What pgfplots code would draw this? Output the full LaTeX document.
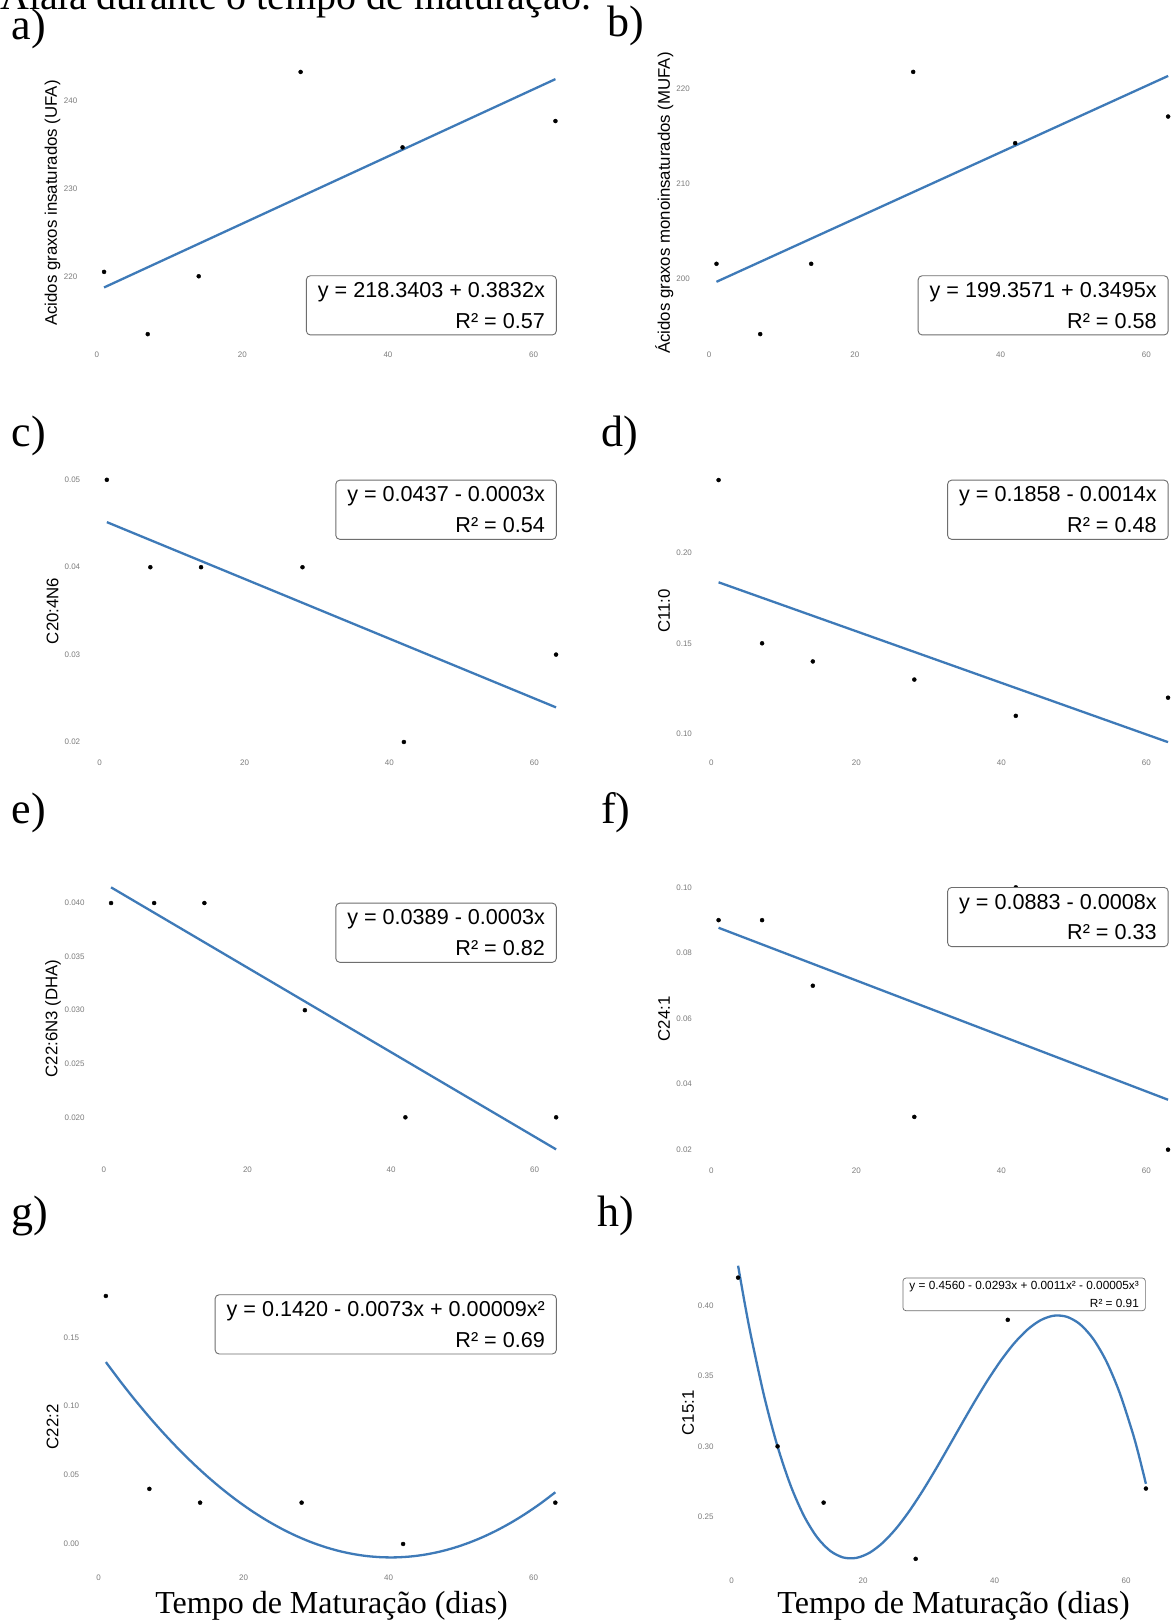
\documentclass[border=0pt]{standalone}
\usepackage{fontspec}
\setmainfont{Liberation Serif}
\newfontfamily\arialfont{Liberation Sans}
\usepackage{pgfplots}
\pgfplotsset{compat=1.18}

\definecolor{fitblue}{RGB}{62,122,184}
\definecolor{tickgray}{RGB}{125,125,125}
\definecolor{boxgray}{RGB}{110,110,110}

\newcommand\tickfont{\arialfont\fontsize{8}{9}\selectfont}
\newcommand\titlefont{\arialfont\fontsize{16.8}{19}\selectfont}
\newcommand\eqfont{\arialfont\fontsize{21.6}{30.7}\selectfont}
\newcommand\eqsmallfont{\arialfont\fontsize{11.8}{17.7}\selectfont}
\newcommand\letterfont{\fontsize{44}{48}\selectfont}
\newcommand\xtitlefont{\fontsize{32}{36}\selectfont}
\newcommand\capfont{\fontsize{40}{44}\selectfont}

\pgfplotsset{
  panel/.style={
    scale only axis, anchor=south west,
    xmin=-2.1, xmax=66.1,
    axis line style={draw=none},
    major tick length=0pt,
    tick style={draw=none},
    xtick={0,20,40,60},
    xticklabels={0,20,40,60},
    scaled y ticks=false,
    tick label style={font=\tickfont, text=tickgray},
    xticklabel style={anchor=north, inner sep=0pt, yshift=-4.5pt},
    yticklabel style={anchor=east, inner sep=0pt, xshift=-4pt},
    /pgf/number format/assume math mode=true,
  },
  fit/.style={no marks, line width=2.3pt, color=fitblue},
  obs/.style={only marks, mark=*, mark size=2pt, color=black},
}
\tikzset{
  eqbox/.style={draw=boxgray, line width=0.9pt, rounded corners=4pt, fill=white,
    align=right, anchor=north east, font=\eqfont, inner xsep=11.5pt, inner ysep=6.6pt, text=black},
  eqboxsmall/.style={eqbox, font=\eqsmallfont, inner xsep=6.5pt, inner ysep=3.3pt, rounded corners=3pt, line width=0.7pt},
  letter/.style={anchor=base west, inner sep=0pt, font=\letterfont},
  ytitle/.style={rotate=90, inner sep=0pt, font=\titlefont},
  xtitle/.style={anchor=base, inner sep=0pt, font=\xtitlefont},
}

\begin{document}
\begin{tikzpicture}
\path[use as bounding box] (0,0) rectangle (1175pt,-1621pt);
\fill[white] (0,0) rectangle (1175pt,-1621pt);

% running caption line, cut by the page edge
\begin{scope}
  \clip (0,0) rectangle (1175pt,-1621pt);
  \node[anchor=base west, inner sep=0pt, font=\capfont] at (0pt,-10pt) {Alaia durante o tempo de maturação.};
\end{scope}

% ---------------- a) UFA
\begin{axis}[panel, at={(81.5pt,-347.3pt)}, width=496.5pt, height=288.5pt,
  ymin=211.9, ymax=244.8, ytick={220,230,240}, yticklabels={220,230,240}]
  \addplot[fit] coordinates {(1,218.7235) (63,242.4819)};
  \addplot[obs] coordinates {(1,220.5) (7,213.4) (14,220.0) (28,243.3) (42,234.7) (63,237.7)};
\end{axis}

% ---------------- b) MUFA
\begin{axis}[panel, at={(693.9pt,-347.4pt)}, width=496.8pt, height=288.8pt,
  ymin=192.8, ymax=223.2, ytick={200,210,220}, yticklabels={200,210,220}]
  \addplot[fit] coordinates {(1,199.7066) (63,221.3756)};
  \addplot[obs] coordinates {(1,201.6) (7,194.2) (14,201.6) (28,221.8) (42,214.3) (63,217.1)};
\end{axis}

% ---------------- c) C20:4N6
\begin{axis}[panel, at={(84.4pt,-755.1pt)}, width=494.1pt, height=288.4pt,
  ymin=0.0185, ymax=0.0515, ytick={0.02,0.03,0.04,0.05}, yticklabels={0.02,0.03,0.04,0.05}]
  \addplot[fit] coordinates {(1,0.045158) (63,0.023959)};
  \addplot[obs] coordinates {(1,0.05) (7,0.04) (14,0.04) (28,0.04) (42,0.02) (63,0.03)};
\end{axis}

% ---------------- d) C11:0
\begin{axis}[panel, at={(696.1pt,-755.2pt)}, width=494.4pt, height=288.2pt,
  ymin=0.0883, ymax=0.2472, ytick={0.10,0.15,0.20}, yticklabels={0.10,0.15,0.20}]
  \addplot[fit] coordinates {(1,0.183634) (63,0.095501)};
  \addplot[obs] coordinates {(1,0.24) (7,0.15) (14,0.14) (28,0.13) (42,0.11) (63,0.12)};
\end{axis}

% ---------------- e) C22:6N3 (DHA)
\begin{axis}[panel, at={(88.8pt,-1162.4pt)}, width=489.6pt, height=288.2pt,
  ymin=0.01579, ymax=0.04269, ytick={0.020,0.025,0.030,0.035,0.040},
  yticklabels={0.020,0.025,0.030,0.035,0.040}]
  \addplot[fit] coordinates {(1,0.041463) (63,0.017005)};
  \addplot[obs] coordinates {(1,0.04) (7,0.04) (14,0.04) (28,0.03) (42,0.02) (63,0.02)};
\end{axis}

% ---------------- f) C24:1
\begin{axis}[panel, at={(696.1pt,-1162.8pt)}, width=494.4pt, height=288.6pt,
  ymin=0.016, ymax=0.104, ytick={0.02,0.04,0.06,0.08,0.10},
  yticklabels={0.02,0.04,0.06,0.08,0.10}]
  \addplot[fit] coordinates {(1,0.08767) (63,0.035232)};
  \addplot[obs] coordinates {(1,0.09) (7,0.09) (14,0.07) (28,0.03) (42,0.10) (63,0.02)};
\end{axis}

% ---------------- g) C22:2 (quadratic fit)
\begin{axis}[panel, at={(83.4pt,-1570.5pt)}, width=494.4pt, height=287.6pt,
  ymin=-0.01926, ymax=0.18949, ytick={0,0.05,0.10,0.15},
  yticklabels={0.00,0.05,0.10,0.15}]
  \addplot[fit, smooth] coordinates {
    (1,0.132042) (3,0.117977) (5,0.104647) (7,0.092051) (9,0.080189)
    (11,0.069062) (13,0.058669) (15,0.049011) (17,0.040087) (19,0.031897)
    (21,0.024442) (23,0.017721) (25,0.011735) (27,0.006483) (29,0.001965)
    (31,-0.001818) (33,-0.004867) (35,-0.007181) (37,-0.008761) (39,-0.009607)
    (41,-0.009718) (43,-0.009095) (45,-0.007737) (47,-0.005645) (49,-0.002819)
    (51,0.000742) (53,0.005037) (55,0.010067) (57,0.015831) (59,0.022329)
    (61,0.029562) (63,0.037529)};
  \addplot[obs] coordinates {(1,0.18) (7,0.04) (14,0.03) (28,0.03) (42,0.00) (63,0.03)};
\end{axis}

% ---------------- h) C15:1 (cubic fit)
\begin{axis}[panel, at={(717.7pt,-1573.6pt)}, width=448.6pt, height=323.4pt,
  ymin=0.2095, ymax=0.4395, ytick={0.25,0.30,0.35,0.40},
  yticklabels={0.25,0.30,0.35,0.40}]
  \addplot[fit, smooth] coordinates {
    (1,0.428486) (2,0.401997) (3,0.377620) (5,0.334936) (7,0.299904) (9,0.271992)
    (11,0.250672) (13,0.235413) (15,0.225687) (17,0.220960) (19,0.220706)
    (21,0.224391) (23,0.231489) (25,0.241466) (27,0.253794) (29,0.267943)
    (31,0.283383) (33,0.299581) (35,0.316012) (37,0.332141) (39,0.347442)
    (41,0.361385) (43,0.373432) (45,0.383065) (47,0.389746) (49,0.392943)
    (51,0.392133) (53,0.386785) (55,0.376364) (57,0.360339) (59,0.338185)
    (61,0.309374) (62,0.292307) (63,0.273369)};
  \addplot[obs] coordinates {(1,0.42) (7,0.30) (14,0.26) (28,0.22) (42,0.39) (63,0.27)};
\end{axis}

% axis titles
\node[ytitle] at (52.5pt,-203pt) {Acidos graxos insaturados (UFA)};
\node[ytitle] at (664.2pt,-203pt) {Ácidos graxos monoinsaturados (MUFA)};
\node[ytitle] at (52.5pt,-610.9pt) {C20:4N6};
\node[ytitle] at (664.2pt,-611pt) {C11:0};
\node[ytitle] at (53pt,-1018.4pt) {C22:6N3 (DHA)};
\node[ytitle] at (664.2pt,-1019pt) {C24:1};
\node[ytitle] at (52.5pt,-1427pt) {C22:2};
\node[ytitle] at (688pt,-1413pt) {C15:1};

\node[xtitle] at (331.5pt,-1613pt) {Tempo de Maturação (dias)};
\node[xtitle] at (953.6pt,-1613pt) {Tempo de Maturação (dias)};

% regression equations
\node[eqbox] at (556.8pt,-275.3pt) {y = 218.3403 + 0.3832x\\R² = 0.57};
\node[eqbox] at (1168.6pt,-275.3pt) {y = 199.3571 + 0.3495x\\R² = 0.58};
\node[eqbox] at (556.8pt,-479.7pt) {y = 0.0437 - 0.0003x\\R² = 0.54};
\node[eqbox] at (1168.6pt,-479.7pt) {y = 0.1858 - 0.0014x\\R² = 0.48};
\node[eqbox] at (556.8pt,-902.7pt) {y = 0.0389 - 0.0003x\\R² = 0.82};
\node[eqbox] at (1168.6pt,-887pt) {y = 0.0883 - 0.0008x\\R² = 0.33};
\node[eqbox] at (556.8pt,-1294.3pt) {y = 0.1420 - 0.0073x + 0.00009x²\\R² = 0.69};
\node[eqboxsmall] at (1145.7pt,-1277.7pt) {y = 0.4560 - 0.0293x + 0.0011x² - 0.00005x³\\R² = 0.91};

% panel letters
\node[letter] at (11.5pt,-40pt) {a)};
\node[letter] at (607pt,-37pt) {b)};
\node[letter] at (11.5pt,-446pt) {c)};
\node[letter] at (601pt,-446pt) {d)};
\node[letter] at (11.5pt,-823pt) {e)};
\node[letter] at (601pt,-823pt) {f)};
\node[letter] at (11.5pt,-1226pt) {g)};
\node[letter] at (597pt,-1226pt) {h)};
\end{tikzpicture}
\end{document}
